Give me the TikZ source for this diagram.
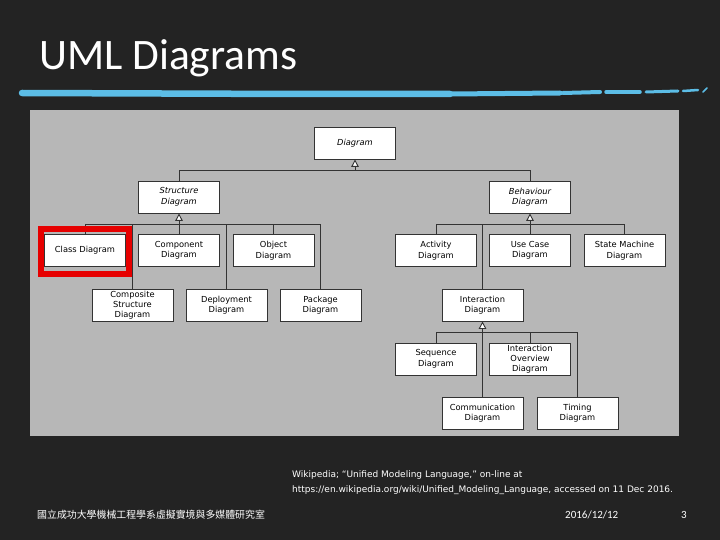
\documentclass[tikz,border=0pt]{standalone}
\usepackage{fontspec}
\setmainfont{Carlito}
\newfontfamily\boxfont{DejaVu Sans}
\newfontfamily\cjk{Noto Sans CJK TC}
\usetikzlibrary{arrows.meta,calc}
\definecolor{board}{HTML}{232323}
\definecolor{panel}{HTML}{B7B7B7}
\definecolor{chalk}{HTML}{5CBDE6}
\definecolor{lineclr}{HTML}{333333}
\tikzset{
  umlbox/.style={draw=lineclr, fill=white, minimum width=81pt, minimum height=32pt,
    inner sep=1pt, align=center, line width=0.8pt,
    font=\boxfont\fontsize{8.3}{10.5}\selectfont},
  abstractbox/.style={umlbox, font=\boxfont\itshape\fontsize{8.3}{10.5}\selectfont},
  conn/.style={draw=lineclr, line width=0.9pt},
  inh/.style={conn, -{Triangle[width=7.5pt,length=7.5pt,fill=white]}},
  redframe/.style={draw={rgb,255:red,230;green,0;blue,0}, line width=6pt},
  chalkline/.style={draw=chalk, line cap=round},
  foot/.style={text=white, inner sep=0pt}
}
\begin{document}
\begin{tikzpicture}[x=1pt,y=-1pt]
\useasboundingbox (0,0) rectangle (720,540);
\fill[board] (0,0) rectangle (720,540);
% title
\node[foot, anchor=base west, font=\fontsize{43.5}{44}\selectfont] (title) at (39,70) {UML Diagrams};
% chalk line
\draw[chalkline, line width=6.5pt] (22,93) -- (300,94) -- (450,94);
\draw[chalkline, line width=5pt] (450,94) -- (560,93);
\draw[chalkline, line width=4pt] (563,93) -- (600,92);
\draw[chalkline, line width=3.5pt] (606,92) -- (640,92);
\draw[chalkline, line width=3pt] (646,92) -- (678,91);
\draw[chalkline, line width=2.5pt] (683,91) -- (698,90);
\draw[chalkline, line width=1.5pt] (703,92) -- (707,88);
% panel
\fill[panel] (30,110) rectangle (679,436);
% nodes
\node[abstractbox] (diagram) at (355,143) {Diagram};
\node[abstractbox] (structure) at (179,197) {Structure\\Diagram};
\node[abstractbox] (behaviour) at (530,197) {Behaviour\\Diagram};
\node[umlbox] (class) at (85,250.5) {Class Diagram};
\node[umlbox] (component) at (179,250.5) {Component\\Diagram};
\node[umlbox] (object) at (273.5,250.5) {Object\\Diagram};
\node[umlbox] (activity) at (436,250.5) {Activity\\Diagram};
\node[umlbox] (usecase) at (530,250.5) {Use Case\\Diagram};
\node[umlbox] (statemachine) at (624.5,250.5) {State Machine\\Diagram};
\node[umlbox, font=\boxfont\fontsize{8.3}{10}\selectfont] (composite) at (132.5,305) {Composite\\Structure\\Diagram};
\node[umlbox] (deployment) at (226.5,305) {Deployment\\Diagram};
\node[umlbox] (package) at (320.5,305) {Package\\Diagram};
\node[umlbox] (interaction) at (482.5,305) {Interaction\\Diagram};
\node[umlbox] (sequence) at (436,359) {Sequence\\Diagram};
\node[umlbox, font=\boxfont\fontsize{8.3}{10}\selectfont] (overview) at (530,359) {Interaction\\Overview\\Diagram};
\node[umlbox] (communication) at (482.5,413) {Communication\\Diagram};
\node[umlbox] (timing) at (577.5,413) {Timing\\Diagram};
% buses
\coordinate (busTop) at (355,170);
\coordinate (busS) at (179,224);
\coordinate (busB) at (530,224);
\coordinate (busI) at (482.5,332);
\draw[conn] (structure.north) |- (busTop);
\draw[conn] (behaviour.north) |- (busTop);
\draw[inh] (busTop) -- (diagram.south);
\foreach \n in {class,composite,component,deployment,object,package}
  \draw[conn] (\n.north) |- (busS);
\draw[inh] (busS) -- (structure.south);
\foreach \n in {activity,interaction,usecase,statemachine}
  \draw[conn] (\n.north) |- (busB);
\draw[inh] (busB) -- (behaviour.south);
\foreach \n in {sequence,communication,overview,timing}
  \draw[conn] (\n.north) |- (busI);
\draw[inh] (busI) -- (interaction.south);
% highlight
\draw[redframe] ($(class.north west)+(-3,-5)$) rectangle ($(class.south east)+(3,7)$);
% footer
\node[foot, anchor=base west, font=\boxfont\fontsize{9}{10}\selectfont] (ref1) at (292,477)
  {Wikipedia; “Unified Modeling Language,” on-line at};
\node[foot, anchor=base west, font=\boxfont\fontsize{9}{10}\selectfont] (ref2) at (292,492)
  {https://en.wikipedia.org/wiki/Unified\_Modeling\_Language, accessed on 11 Dec 2016.};
\node[foot, anchor=west, font=\cjk\fontsize{9.9}{10}\selectfont] (lab) at (37,515) {國立成功大學機械工程學系虛擬實境與多媒體研究室};
\node[foot, anchor=west, font=\fontsize{11}{12}\selectfont] (date) at (565,515) {2016/12/12};
\node[foot, anchor=west, font=\fontsize{11}{12}\selectfont] (page) at (681,515) {3};
\end{tikzpicture}
\end{document}
